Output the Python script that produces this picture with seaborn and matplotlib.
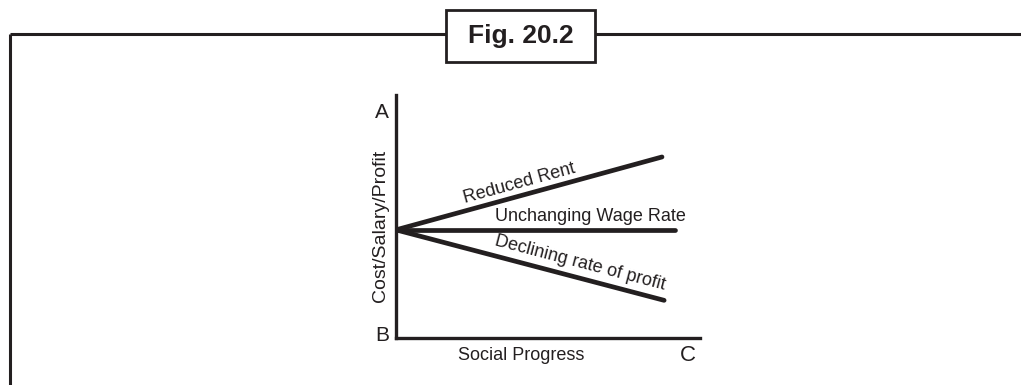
import matplotlib
matplotlib.use("Agg")
import matplotlib.pyplot as plt
from matplotlib.lines import Line2D
from matplotlib.patches import Rectangle
import numpy as np
import pandas as pd
import seaborn as sns

# Schematic trends along social progress
series = ["Reduced Rent", "Unchanging Wage Rate", "Declining rate of profit"]
progress_start = [0.0, 0.0, 0.0]
progress_end = [8.75, 9.18, 8.82]
level_start = [4.45, 4.45, 4.45]
level_end = [7.45, 4.45, 1.55]

axis_labels = {"x": "Social Progress", "y": "Cost/Salary/Profit"}
corner_labels = ["A", "B", "C"]
fig_title = "Fig. 20.2"

rows = []
for name, x0, x1, y0, y1 in zip(series, progress_start, progress_end, level_start, level_end):
    rows.append({"series": name, "progress": x0, "level": y0})
    rows.append({"series": name, "progress": x1, "level": y1})
df = pd.DataFrame(rows)

sns.set_theme(style="white")
plt.rcParams["font.family"] = ["Liberation Sans", "DejaVu Sans"]
ink = "#231f20"

W, H = 1021, 385
fig = plt.figure(figsize=(W / 100, H / 100), dpi=100)
fig.patch.set_facecolor("white")

# Outer frame: top rule and left rule
lw_frame = 2.2
fig.add_artist(Line2D([10 / W, 1.0], [1 - 34 / H, 1 - 34 / H], transform=fig.transFigure,
                      color=ink, lw=lw_frame, solid_capstyle="butt"))
fig.add_artist(Line2D([10 / W, 10 / W], [1 - 34 / H, 0.0], transform=fig.transFigure,
                      color=ink, lw=lw_frame, solid_capstyle="butt"))

# Title box
box = Rectangle((446 / W, 1 - 62 / H), (595 - 446) / W, (62 - 10) / H, transform=fig.transFigure,
                facecolor="white", edgecolor=ink, lw=2.0, zorder=5)
fig.add_artist(box)
fig.text((446 + 595) / 2 / W, 1 - 36 / H, fig_title, ha="center", va="center",
         fontsize=19, fontweight="bold", color=ink, zorder=6)

# Chart axes
ax = fig.add_axes([396 / W, 1 - 338 / H, (700 - 396) / W, (338 - 95) / H])
ax.set_xlim(0, 10)
ax.set_ylim(0, 10)
ax.patch.set_alpha(0)

sns.lineplot(data=df, x="progress", y="level", hue="series", units="series", estimator=None,
             palette=[ink] * 3, linewidth=3.4, legend=False, ax=ax, solid_capstyle="round")

for side in ["top", "right"]:
    ax.spines[side].set_visible(False)
for side in ["left", "bottom"]:
    ax.spines[side].set_color(ink)
    ax.spines[side].set_linewidth(2.4)
ax.set_xticks([])
ax.set_yticks([])
ax.set_xlabel("")
ax.set_ylabel("")

fs = 13
ax.text(-0.46, 9.3, corner_labels[0], ha="center", va="center", fontsize=15, color=ink, clip_on=False)
ax.text(-0.46, 0.1, corner_labels[1], ha="center", va="center", fontsize=15, color=ink, clip_on=False)
ax.text(9.6, -0.74, corner_labels[2], ha="center", va="center", fontsize=16, color=ink, clip_on=False)
ax.text(4.11, -0.72, axis_labels["x"], ha="center", va="center", fontsize=fs, color=ink, clip_on=False)
ax.text(-0.5, 4.6, axis_labels["y"], ha="center", va="center", rotation=90, fontsize=14, color=ink,
        clip_on=False)

# Line labels, rotated along each line in screen space
label_pos = [(4.05, 6.38), (6.38, 4.98), (6.05, 3.09)]
fig.canvas.draw()
for name, (lx, ly), x0, x1, y0, y1 in zip(series, label_pos, progress_start, progress_end,
                                          level_start, level_end):
    p0 = ax.transData.transform((x0, y0))
    p1 = ax.transData.transform((x1, y1))
    ang = np.degrees(np.arctan2(p1[1] - p0[1], p1[0] - p0[0]))
    ax.text(lx, ly, name, ha="center", va="center", rotation=ang, rotation_mode="anchor",
            fontsize=fs, color=ink, clip_on=False)

fig.savefig("out.png", dpi=100, facecolor="white")
